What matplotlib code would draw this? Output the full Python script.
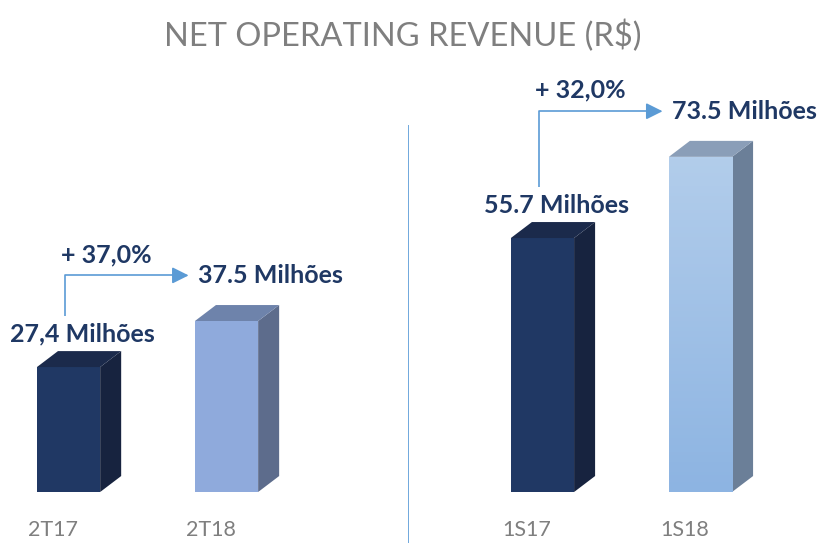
import numpy as np
import matplotlib
matplotlib.use('Agg')
import matplotlib.pyplot as plt
from matplotlib.patches import Polygon
from matplotlib.colors import LinearSegmentedColormap

# data
categories = ['2T17', '2T18', '1S17', '1S18']
values = [27.4, 37.5, 55.7, 73.5]
value_labels = ['27,4 Milhões', '37.5 Milhões', '55.7 Milhões', '73.5 Milhões']
growth_labels = ['+ 37,0%', '+ 32,0%']
positions = [0, 1, 3, 4]

front_colors = ['#203864', '#8FAADC', '#203864', '#A0C0E6']
side_colors = ['#17233F', '#5D6C8C', '#17233F', '#6B7F98']
top_colors = ['#1B2A4B', '#6E83AB', '#1B2A4B', '#8A9EB8']

NAVY = '#1F3864'
GRAY = '#7F7F7F'
ARROW = '#5B9BD5'

plt.rcParams['font.family'] = ['Lato', 'DejaVu Sans']

fig = plt.figure(figsize=(8.21, 5.43), dpi=100)
# baseline 492 px from top, 4.56 px per unit
ax = fig.add_axes([0, 51 / 543, 1, 456 / 543])
ax.set_xlim(-0.434, 4.763)
ax.set_ylim(0, 100)
ax.axis('off')

width = 0.4
dx, dy = 0.133, 3.5

bars = ax.bar(positions, values, width=width, color=front_colors, zorder=3)
for i, (b, v) in enumerate(zip(bars, values)):
    x0 = b.get_x()
    x1 = x0 + width
    side = Polygon([(x1, 0), (x1 + dx, dy), (x1 + dx, v + dy), (x1, v)],
                   closed=True, facecolor=side_colors[i], edgecolor='none', zorder=3)
    top = Polygon([(x0, v), (x0 + dx, v + dy), (x1 + dx, v + dy), (x1, v)],
                  closed=True, facecolor=top_colors[i], edgecolor='none', zorder=3)
    ax.add_patch(side)
    ax.add_patch(top)

# subtle gradient on the last bar
b = bars[3]
b.set_facecolor('none')
grad = np.linspace(0, 1, 100).reshape(-1, 1)
cmap = LinearSegmentedColormap.from_list('g', ['#8DB4E2', '#B2CDEB'])
im = ax.imshow(grad, cmap=cmap, origin='lower', aspect='auto',
               extent=(b.get_x(), b.get_x() + width, 0, values[3]), zorder=3)
im.set_clip_path(b)

# category labels
for p, c in zip(positions, categories):
    ax.text(p - 0.1, -8.3, c, ha='center', va='center', fontsize=15.5,
            color=GRAY, clip_on=False)

# value labels and growth arrows, per panel
for k in range(2):
    i_prev, i_cur = 2 * k, 2 * k + 1
    p_prev, p_cur = positions[i_prev], positions[i_cur]
    v_prev, v_cur = values[i_prev], values[i_cur]
    y_prev = v_prev + 7.2
    y_cur = v_cur + 10.0
    ax.text(p_prev + 0.09, y_prev, value_labels[i_prev], ha='center', va='center',
            fontsize=18, fontweight='bold', color=NAVY, zorder=5)
    ax.text(p_cur + 0.28, y_cur, value_labels[i_cur], ha='center', va='center',
            fontsize=18, fontweight='bold', color=NAVY, zorder=5)
    ax_x = p_prev - 0.02
    ax.plot([ax_x, ax_x, p_cur - 0.3], [y_prev + 4.0, y_cur, y_cur],
            color=ARROW, lw=1.2, zorder=4, solid_capstyle='butt')
    ax.annotate('', xy=(p_cur - 0.24, y_cur), xytext=(p_cur - 0.32, y_cur),
                arrowprops=dict(arrowstyle='-|>,head_length=1.0,head_width=0.5',
                                color=ARROW, lw=1.2, shrinkA=0, shrinkB=0))
    ax.text(p_prev + 0.24, y_cur + 4.6, growth_labels[k], ha='center', va='center',
            fontsize=18, fontweight='bold', color=NAVY, zorder=5)

# separator line between the two panels
ax.plot([2.149, 2.149], [-11.5, 80.5], color='#6FA8DC', lw=0.7, clip_on=False)

fig.text(403 / 821, 1 - 36 / 543, 'NET OPERATING REVENUE (R$)', ha='center',
         va='center', fontsize=23.5, color=GRAY)

fig.savefig('out.png', dpi=100)
